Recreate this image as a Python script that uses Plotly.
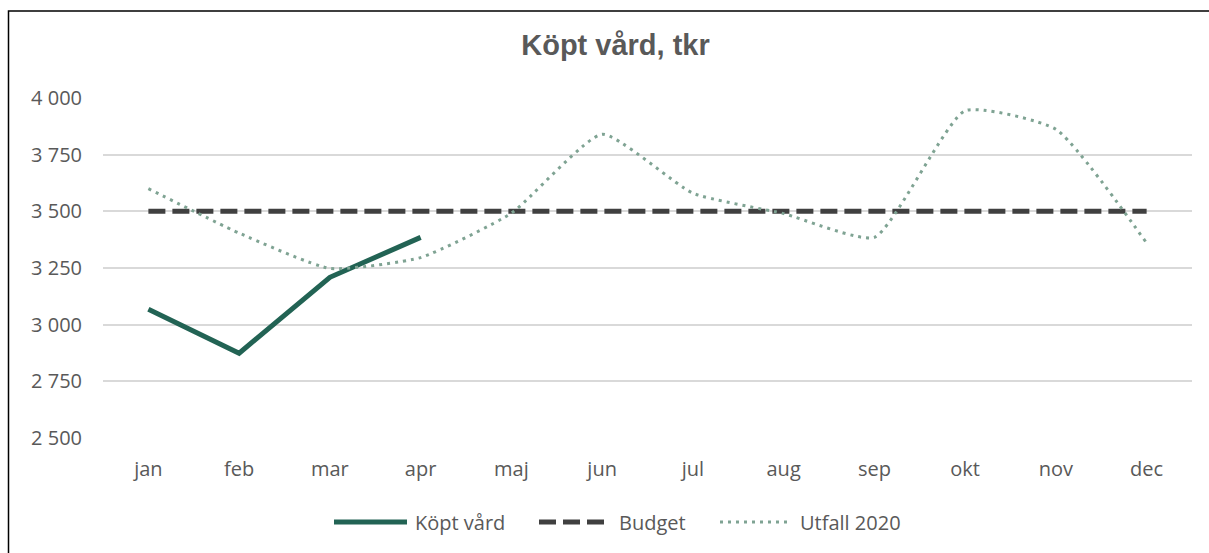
import plotly.graph_objects as go

months = ["jan", "feb", "mar", "apr", "maj", "jun", "jul", "aug", "sep", "okt", "nov", "dec"]
kopt_vard = [3068, 2874, 3209, 3385]
budget = [3500] * 12
utfall_2020 = [3600, 3404, 3248, 3296, 3492, 3840, 3580, 3490, 3385, 3944, 3862, 3360]
y_ticks = [2500, 2750, 3000, 3250, 3500, 3750, 4000]

series_names = ["Köpt vård", "Budget", "Utfall 2020"]
series_colors = ["#226354", "#404040", "#7FA393"]
series_widths = [5, 5, 3]
series_dash = ["solid", "17px,7px", "3px,5px"]

# plot area geometry (pixels)
PL, PR, PT, PB = 103, 1192, 98, 438
W, H = 1209, 553


def px_x(px):
    return (px - PL) / (PR - PL)


def px_y(py):
    return (PB - py) / (PB - PT)


fig = go.Figure()
fig.add_trace(go.Scatter(
    x=months[:len(kopt_vard)], y=kopt_vard, name=series_names[0], mode="lines",
    line=dict(color=series_colors[0], width=series_widths[0])))
fig.add_trace(go.Scatter(
    x=months, y=budget, name=series_names[1], mode="lines",
    line=dict(color=series_colors[1], width=series_widths[1], dash=series_dash[1])))
fig.add_trace(go.Scatter(
    x=months, y=utfall_2020, name=series_names[2], mode="lines",
    line=dict(color=series_colors[2], width=series_widths[2], dash=series_dash[2],
              shape="spline", smoothing=0.5)))

tick_font = dict(family="Open Sans", size=20, color="#595959")

# custom legend (symbol spans and text starts, in pixels)
legend_sym = [(334, 407), (539, 605), (720, 791)]
legend_txt = [413, 617, 798]
legend_y = 522

shapes = [dict(type="rect", xref="paper", yref="paper",
               x0=px_x(8.5), x1=px_x(1212), y0=px_y(600), y1=px_y(11),
               line=dict(color="black", width=1.5), fillcolor="rgba(0,0,0,0)", layer="below")]
annotations = []
for i in range(3):
    shapes.append(dict(type="line", xref="paper", yref="paper",
                       x0=px_x(legend_sym[i][0]), x1=px_x(legend_sym[i][1]),
                       y0=px_y(legend_y), y1=px_y(legend_y),
                       line=dict(color=series_colors[i], width=series_widths[i],
                                 dash=series_dash[i])))
    annotations.append(dict(text=series_names[i], xref="paper", yref="paper",
                            x=px_x(legend_txt[i]), y=px_y(legend_y), xanchor="left",
                            yanchor="middle", showarrow=False,
                            font=dict(family="Open Sans", size=20, color="#595959")))

fig.update_layout(
    width=W, height=H,
    paper_bgcolor="white", plot_bgcolor="white",
    margin=dict(l=PL, r=W - PR, t=PT, b=H - PB),
    separators=", ",
    showlegend=False,
    title=dict(text="<b>Köpt vård, tkr</b>", x=615.5 / W, xanchor="center", y=1 - 45 / H, yanchor="middle",
               font=dict(family="Liberation Sans", size=29, color="#595959")),
    xaxis=dict(type="category", categoryorder="array", categoryarray=months,
               range=[-0.5, len(months) - 0.5],
               showgrid=False, showline=False, ticks="", tickfont=tick_font,
               ticklabelstandoff=17, zeroline=False),
    yaxis=dict(range=[2500, 4000], tickvals=y_ticks, tickformat=",d",
               showgrid=True, gridcolor="#D9D9D9", gridwidth=1.5,
               showline=False, ticks="", tickfont=tick_font, ticklabelstandoff=20, zeroline=False),
    shapes=shapes,
    annotations=annotations,
)

fig.write_html("out.html", config={"displayModeBar": False},
               post_script="document.body.style.margin='0';document.body.style.overflow='hidden';")
